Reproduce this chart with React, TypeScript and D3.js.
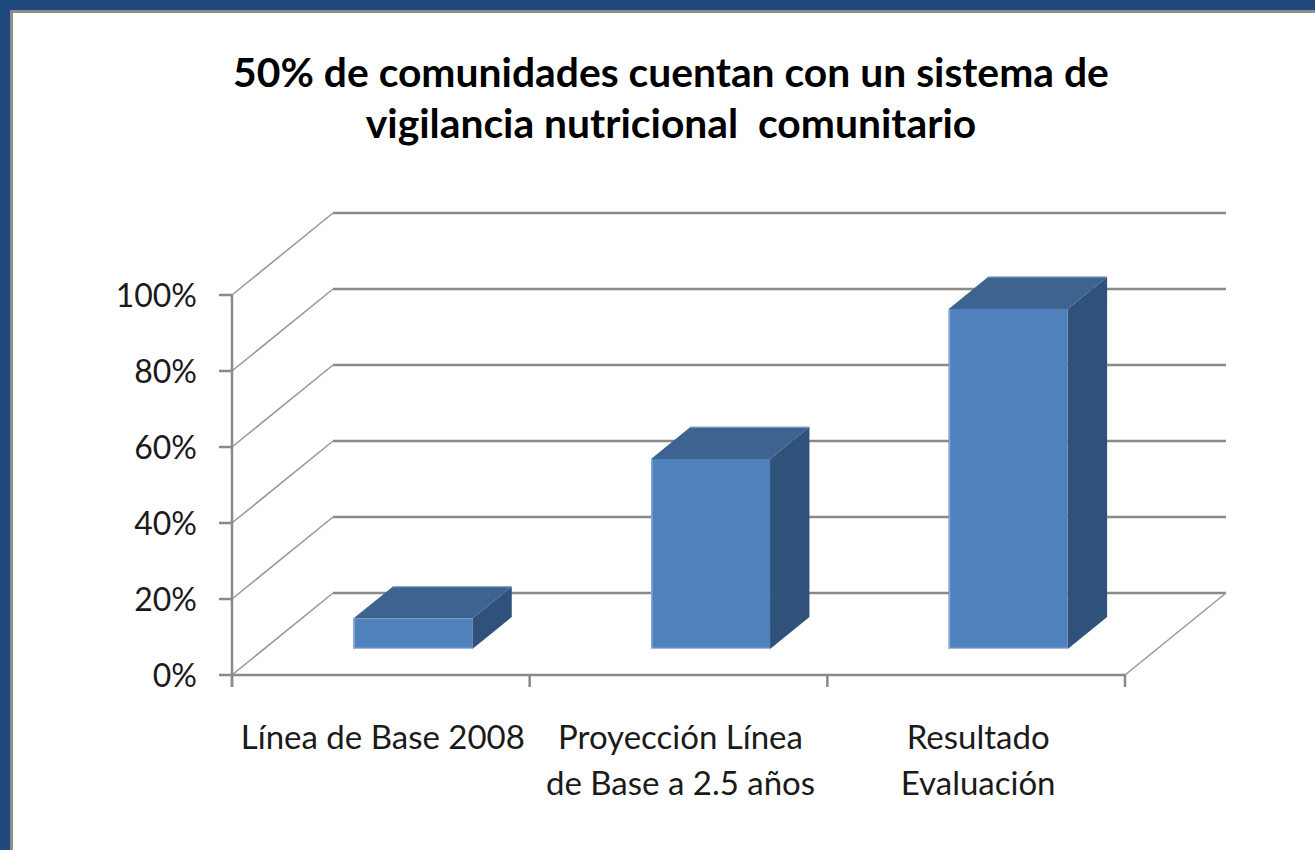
import React from "react";
import * as d3 from "d3";

const titleLines = [
  "50% de comunidades cuentan con un sistema de",
  "vigilancia nutricional  comunitario",
];
const categories = ["base2008", "proyeccion", "resultado"];
const categoryLabels = [
  ["Línea de Base 2008"],
  ["Proyección Línea", "de Base a 2.5 años"],
  ["Resultado", "Evaluación"],
];
const values = [0.08, 0.5, 0.895];
const yTicks = [0, 0.2, 0.4, 0.6, 0.8, 1];

const W = 1315;
const H = 850;
const DX = 101;
const DY = -82;
const F1 = 0.317;
const F2 = 0.707;
const FONT = "Lato, 'Noto Sans', sans-serif";

export default function App() {
  const x = d3.scaleBand<string>().domain(categories).range([232, 1125]).padding(0);
  const y = d3.scaleLinear().domain([0, 1]).range([675, 295]);
  const pct = d3.format(".0%");
  const bw = x.bandwidth();
  const barW = bw / 2.5;
  const ddx = DX * (F2 - F1);
  const ddy = DY * (F2 - F1);
  const [x0, x1] = x.range();
  const y0 = y(0);
  const grid = "#8a8a8a";

  return (
    <svg
      width={W}
      height={H}
      style={{ position: "absolute", left: 0, top: 0, background: "#fff" }}
      fontFamily={FONT}
    >
      <rect x={0} y={0} width={W} height={H} fill="#fff" />
      {/* frame */}
      <rect x={0} y={0} width={W} height={10} fill="#1f497d" />
      <rect x={0} y={0} width={10} height={H} fill="#1f497d" />
      <rect x={10} y={10} width={W - 10} height={3} fill="#8c8c8c" />
      <rect x={10} y={10} width={3} height={H - 10} fill="#8c8c8c" />

      {/* title */}
      {titleLines.map((t, i) => (
        <text
          key={i}
          x={671}
          y={87 + i * 51}
          textAnchor="middle"
          fontWeight="bold"
          fontSize={40.8}
          fill="#000"
          style={{ whiteSpace: "pre" }}
        >
          {t}
        </text>
      ))}

      {/* back wall gridlines */}
      {yTicks.map((t) => (
        <line
          key={"bg" + t}
          x1={x0 + DX}
          x2={x1 + DX}
          y1={y(t) + DY}
          y2={y(t) + DY}
          stroke={grid}
          strokeWidth={2.5}
        />
      ))}
      {/* left wall diagonals */}
      {yTicks.map((t) => (
        <line
          key={"lw" + t}
          x1={x0}
          y1={y(t)}
          x2={x0 + DX}
          y2={y(t) + DY}
          stroke="#9a9a9a"
          strokeWidth={1.6}
        />
      ))}
      {/* floor right diagonal */}
      <line x1={x1} y1={y0} x2={x1 + DX} y2={y0 + DY} stroke="#9a9a9a" strokeWidth={1.6} />

      {/* axes */}
      <line x1={x0} x2={x1} y1={y0} y2={y0} stroke={grid} strokeWidth={2.5} />
      <line x1={x0} x2={x0} y1={y(1)} y2={y0 + 12} stroke={grid} strokeWidth={2.5} />
      {yTicks.map((t) => (
        <line key={"yt" + t} x1={x0 - 13} x2={x0} y1={y(t)} y2={y(t)} stroke={grid} strokeWidth={2.5} />
      ))}
      {[...categories.map((c) => x(c) as number), x1].map((px, i) => (
        <line key={"xt" + i} x1={px} x2={px} y1={y0} y2={y0 + 12} stroke={grid} strokeWidth={2.5} />
      ))}

      {/* y labels */}
      {yTicks.map((t) => (
        <text
          key={"yl" + t}
          x={197}
          y={y(t)}
          dy="0.36em"
          textAnchor="end"
          fontSize={32}
          fill="#1a1a1a"
        >
          {pct(t)}
        </text>
      ))}

      {/* bars */}
      {categories.map((c, i) => {
        const v = values[i];
        const fx0 = (x(c) as number) + bw / 2 - barW / 2 + DX * F1;
        const fx1 = fx0 + barW;
        const fyb = y0 + DY * F1;
        const fyt = y(v) + DY * F1;
        const top = [
          [fx0, fyt],
          [fx0 + ddx, fyt + ddy],
          [fx1 + ddx, fyt + ddy],
          [fx1, fyt],
        ];
        const side = [
          [fx1, fyt],
          [fx1 + ddx, fyt + ddy],
          [fx1 + ddx, fyb + ddy],
          [fx1, fyb],
        ];
        const pts = (p: number[][]) => p.map((q) => q.join(",")).join(" ");
        return (
          <g key={c}>
            <polygon points={pts(side)} fill="#30527a" />
            <polygon points={pts(top)} fill="#3d6491" />
            <line x1={fx0 + ddx} y1={fyt + ddy} x2={fx1 + ddx} y2={fyt + ddy} stroke="#8ea6c6" strokeWidth={1.2} />
            <rect x={fx0} y={fyt} width={barW} height={fyb - fyt} fill="#4f81bd" />
            <line x1={fx0 + 0.8} x2={fx0 + 0.8} y1={fyt} y2={fyb} stroke="#86a8d6" strokeWidth={1.6} />
            <line x1={fx0} x2={fx1} y1={fyb - 0.6} y2={fyb - 0.6} stroke="#9fbbe0" strokeWidth={1.4} />
          </g>
        );
      })}

      {/* category labels */}
      {categories.map((c, i) => (
        <text
          key={"cl" + c}
          x={(x(c) as number) + bw / 2 + 2}
          y={749}
          textAnchor="middle"
          fontSize={33}
          fill="#1a1a1a"
        >
          {categoryLabels[i].map((l, j) => (
            <tspan key={j} x={(x(c) as number) + bw / 2 + 2} dy={j === 0 ? 0 : 46}>
              {l}
            </tspan>
          ))}
        </text>
      ))}
    </svg>
  );
}
